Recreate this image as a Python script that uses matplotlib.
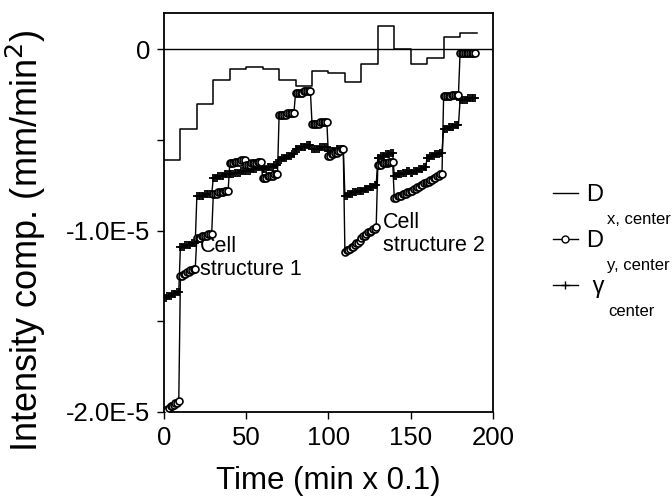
import numpy as np
import matplotlib
matplotlib.use("Agg")
import matplotlib.pyplot as plt
from matplotlib.lines import Line2D
from matplotlib.transforms import IdentityTransform

plt.rcParams['font.family'] = ['Liberation Sans', 'DejaVu Sans']

# values in units of 1E-5 mm/min^2, time in min x 0.1
step_start = [0, 10, 20, 30, 40, 50, 60, 70, 80, 90,
              100, 110, 120, 130, 140, 150, 160, 170, 180]
dx_level = [-0.61, -0.44, -0.30, -0.17, -0.11, -0.10, -0.11, -0.17, -0.20, -0.12,
            -0.13, -0.18, -0.08, 0.13, 0.00, -0.08, -0.05, 0.07, 0.09]
t_end = 190

# one row per 10-sample block
dy_seg = [
    [-2.00, -1.99, -1.99, -1.98, -1.97, -1.97, -1.96, -1.95, -1.95, -1.94],
    [-1.25, -1.25, -1.24, -1.24, -1.23, -1.23, -1.22, -1.22, -1.21, -1.21],
    [-1.04, -1.04, -1.04, -1.03, -1.03, -1.03, -1.03, -1.02, -1.02, -1.02],
    [-0.80, -0.80, -0.80, -0.79, -0.79, -0.79, -0.79, -0.78, -0.78, -0.78],
    [-0.63, -0.63, -0.63, -0.62, -0.62, -0.62, -0.62, -0.61, -0.61, -0.61],
    [-0.64, -0.64, -0.64, -0.63, -0.63, -0.63, -0.63, -0.62, -0.62, -0.62],
    [-0.71, -0.71, -0.71, -0.70, -0.70, -0.70, -0.70, -0.69, -0.69, -0.69],
    [-0.36, -0.36, -0.36, -0.36, -0.36, -0.35, -0.35, -0.35, -0.35, -0.35],
    [-0.24, -0.24, -0.24, -0.24, -0.24, -0.23, -0.23, -0.23, -0.23, -0.23],
    [-0.41, -0.41, -0.41, -0.41, -0.41, -0.40, -0.40, -0.40, -0.40, -0.40],
    [-0.59, -0.59, -0.58, -0.58, -0.57, -0.57, -0.56, -0.56, -0.55, -0.55],
    [-1.12, -1.11, -1.11, -1.10, -1.09, -1.09, -1.08, -1.07, -1.07, -1.06],
    [-1.04, -1.03, -1.03, -1.02, -1.01, -1.01, -1.00, -0.99, -0.99, -0.98],
    [-0.64, -0.64, -0.64, -0.63, -0.63, -0.63, -0.63, -0.62, -0.62, -0.62],
    [-0.82, -0.82, -0.81, -0.81, -0.81, -0.80, -0.80, -0.80, -0.79, -0.79],
    [-0.78, -0.78, -0.77, -0.77, -0.76, -0.76, -0.75, -0.75, -0.74, -0.74],
    [-0.73, -0.73, -0.72, -0.72, -0.71, -0.71, -0.70, -0.70, -0.69, -0.69],
    [-0.26, -0.26, -0.26, -0.26, -0.26, -0.25, -0.25, -0.25, -0.25, -0.25],
    [-0.02, -0.02, -0.02, -0.02, -0.02, -0.02, -0.02, -0.02, -0.02, -0.02],
]

gamma_seg = [
    [-1.37, -1.37, -1.36, -1.36, -1.36, -1.35, -1.35, -1.35, -1.34, -1.34],
    [-1.09, -1.09, -1.09, -1.08, -1.08, -1.08, -1.08, -1.07, -1.07, -1.07],
    [-0.81, -0.81, -0.81, -0.81, -0.81, -0.80, -0.80, -0.80, -0.80, -0.80],
    [-0.71, -0.71, -0.71, -0.70, -0.70, -0.70, -0.70, -0.69, -0.69, -0.69],
    [-0.69, -0.69, -0.69, -0.68, -0.68, -0.68, -0.68, -0.67, -0.67, -0.67],
    [-0.67, -0.67, -0.67, -0.66, -0.66, -0.66, -0.66, -0.65, -0.65, -0.65],
    [-0.66, -0.66, -0.66, -0.65, -0.65, -0.65, -0.65, -0.64, -0.64, -0.64],
    [-0.61, -0.61, -0.60, -0.60, -0.60, -0.59, -0.59, -0.59, -0.58, -0.58],
    [-0.55, -0.55, -0.55, -0.54, -0.54, -0.54, -0.54, -0.53, -0.53, -0.53],
    [-0.55, -0.55, -0.55, -0.55, -0.55, -0.54, -0.54, -0.54, -0.54, -0.54],
    [-0.56, -0.56, -0.56, -0.56, -0.56, -0.55, -0.55, -0.55, -0.55, -0.55],
    [-0.81, -0.81, -0.80, -0.80, -0.80, -0.79, -0.79, -0.79, -0.78, -0.78],
    [-0.78, -0.78, -0.77, -0.77, -0.77, -0.76, -0.76, -0.76, -0.75, -0.75],
    [-0.60, -0.60, -0.59, -0.59, -0.59, -0.58, -0.58, -0.58, -0.57, -0.57],
    [-0.70, -0.70, -0.69, -0.69, -0.69, -0.68, -0.68, -0.68, -0.67, -0.67],
    [-0.68, -0.68, -0.67, -0.67, -0.67, -0.66, -0.66, -0.66, -0.65, -0.65],
    [-0.60, -0.60, -0.59, -0.59, -0.59, -0.58, -0.58, -0.58, -0.57, -0.57],
    [-0.44, -0.44, -0.44, -0.43, -0.43, -0.43, -0.43, -0.42, -0.42, -0.42],
    [-0.28, -0.28, -0.28, -0.28, -0.28, -0.27, -0.27, -0.27, -0.27, -0.27],
]

xticks = [0, 50, 100, 150, 200]
yticks = [0, -1.0e-5, -2.0e-5]
ytick_labels = ['0', '-1.0E-5', '-2.0E-5']
scale = 1e-5

dy = np.concatenate(dy_seg) * scale
gamma = np.concatenate(gamma_seg) * scale
t = np.arange(len(dy))

fig = plt.figure(figsize=(6.72, 5.01), dpi=100)
ax = fig.add_axes([0.244, 0.178, 0.4896, 0.796])

ax.axhline(0, color='k', lw=1.0, zorder=1)
ax.plot(np.append(step_start, t_end), np.append(dx_level, dx_level[-1]) * scale,
        drawstyle='steps-post', color='k', lw=1.1, zorder=2)
ax.plot(t, gamma, color='k', lw=1.0, marker='+', ms=6, mew=1.3, zorder=3)
ax.plot(t, dy, color='k', lw=1.0, marker='o', ms=5, mfc='white', mec='k',
        mew=1.2, zorder=4)

ax.text(22, -1.03e-5, 'Cell\nstructure 1', fontsize=15.5, va='top', ha='left',
        linespacing=1.1)
ax.text(133, -0.90e-5, 'Cell\nstructure 2', fontsize=15.5, va='top', ha='left',
        linespacing=1.1)

ax.set_xlim(0, 200)
ax.set_ylim(-2.0e-5, 0.2e-5)
ax.set_xticks(xticks)
ax.set_yticks(yticks, ytick_labels)
ax.set_yticks([-0.5e-5, -1.5e-5], minor=True)
ax.tick_params(which='both', direction='out', length=5, width=1.0,
               labelsize=18.5, pad=5)
for s in ax.spines.values():
    s.set_linewidth(1.3)

ax.set_xlabel('Time (min x 0.1)', fontsize=22.5, labelpad=12)
ax.set_ylabel('Intensity comp. (mm/min$^2$)', fontsize=26)
ax.yaxis.set_label_coords(-0.352, 0.43)

handles = [
    Line2D([], [], color='k', lw=1.0),
    Line2D([], [], color='k', lw=1.0, marker='o', ms=5, mfc='white', mec='k', mew=1.0),
    Line2D([], [], color='k', lw=1.0, marker='+', ms=6, mew=1.0),
]
leg = fig.legend(handles, ['D', 'D', ' γ'], loc='upper left',
                 bbox_to_anchor=(553 / 672, 1 - 184 / 501), frameon=False,
                 fontsize=17, handlelength=1.05, handletextpad=0.35,
                 labelspacing=1.02, borderpad=0, borderaxespad=0)

fig.canvas.draw()
subs = ['x, center', 'y, center', 'center']
for txt, sub in zip(leg.get_texts(), subs):
    bb = txt.get_window_extent()
    fig.text(bb.x1 + 4, bb.y0 - 6, sub, fontsize=12, va='top', ha='left',
             transform=IdentityTransform())

fig.savefig('out.png', dpi=100)
